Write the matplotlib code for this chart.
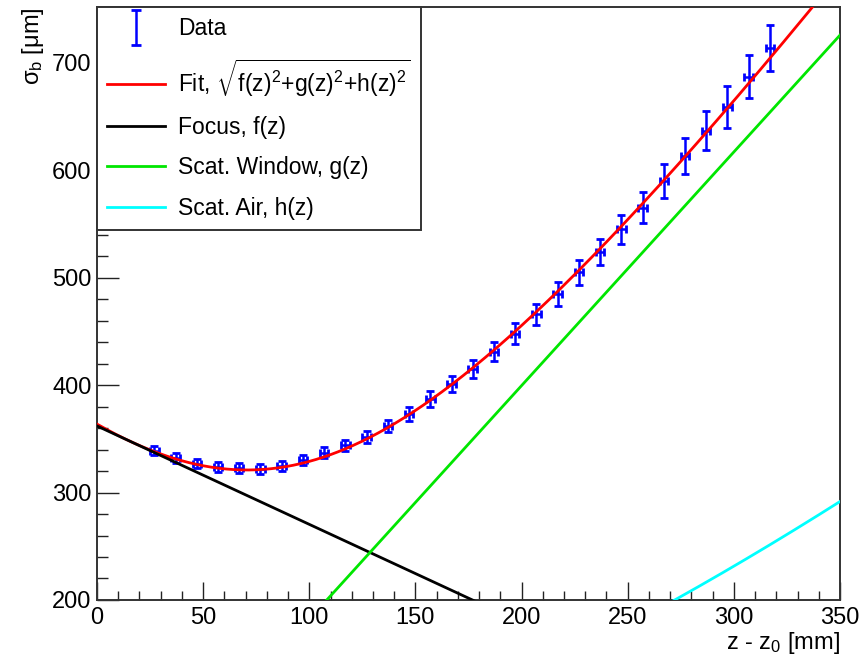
import numpy as np
import matplotlib
matplotlib.use('Agg')
import matplotlib.pyplot as plt
from matplotlib.ticker import MultipleLocator
from matplotlib.legend_handler import HandlerErrorbar

plt.rcParams['font.family'] = ['Liberation Sans', 'DejaVu Sans']
plt.rcParams['mathtext.fontset'] = 'custom'
plt.rcParams['mathtext.rm'] = 'Liberation Sans'
plt.rcParams['mathtext.it'] = 'Liberation Sans'
plt.rcParams['mathtext.bf'] = 'Liberation Sans:bold'

# measured beam width vs distance
z_data = [27, 37, 47, 57, 67, 77, 87, 97, 107, 117,
          127, 137, 147, 157, 167, 177, 187, 197, 207, 217,
          227, 237, 247, 257, 267, 277, 287, 297, 307, 317]
sigma_b = [339, 332, 327, 324, 323, 322, 325, 330, 337, 344,
           352, 362, 373, 387, 401, 415, 431, 448, 466, 485,
           505, 524, 545, 565, 590, 613, 637, 659, 687, 714]
sigma_err = [4.5, 4.5, 4.5, 4.5, 4.5, 4.5, 4.5, 4.8, 5.0, 5.2,
             5.5, 5.8, 6.5, 7.2, 7.6, 8.2, 8.8, 9.5, 10.0, 11.0,
             11.5, 12.3, 13.8, 14.4, 16.0, 16.8, 18.5, 19.6, 20.0, 21.5]
z_err = 2.0

# fit components (parameters)
focus_a, focus_b = 362.0, -0.916     # f(z) = |a + b z|
window_k, window_z = 2.175, 16.3     # g(z) = k (z - z_w)
air_k = 0.04454                      # h(z) = k z^1.5

z_fit = np.linspace(0, 350, 701)
f_z = np.abs(focus_a + focus_b * z_fit)
g_z = window_k * (z_fit - window_z)
h_z = air_k * z_fit ** 1.5
fit_z = np.sqrt(f_z ** 2 + g_z ** 2 + h_z ** 2)

fig = plt.figure(figsize=(8.6, 6.57), dpi=100)
ax = fig.add_axes([0.1128, 0.0868, 0.8639, 0.9025])

ax.errorbar(z_data, sigma_b, yerr=sigma_err, xerr=z_err, fmt='none',
            ecolor='#0000ff', elinewidth=1.8, capsize=3.2, capthick=2.0, zorder=2)
proxy = ax.errorbar([np.nan], [np.nan], yerr=[1], fmt='none',
                    ecolor='#0000ff', elinewidth=1.8, capsize=3.5, capthick=2.0)

l_fit, = ax.plot(z_fit, fit_z, color='#ff0000', lw=2.0, zorder=3)
l_f, = ax.plot(z_fit, f_z, color='black', lw=2.0, zorder=3)
l_g, = ax.plot(z_fit, g_z, color='#00e600', lw=2.0, zorder=3)
l_h, = ax.plot(z_fit, h_z, color='#00ffff', lw=2.0, zorder=3)

ax.set_xlim(0, 350)
ax.set_ylim(200, 752)

ax.xaxis.set_major_locator(MultipleLocator(50))
ax.xaxis.set_minor_locator(MultipleLocator(10))
ax.yaxis.set_major_locator(MultipleLocator(100))
ax.yaxis.set_minor_locator(MultipleLocator(20))
ax.tick_params(axis='both', which='both', direction='in', top=False, right=False,
               labelsize=17, width=1.0, color='#222222')
ax.tick_params(axis='x', which='major', length=13, pad=5)
ax.tick_params(axis='x', which='minor', length=6.5)
ax.tick_params(axis='y', which='major', length=16, pad=4)
ax.tick_params(axis='y', which='minor', length=8)
for s in ax.spines.values():
    s.set_linewidth(1.4)
    s.set_color('#333333')

ax.set_xlabel(r'z - z$_{0}$ [mm]', fontsize=17, loc='right', labelpad=1)
ax.set_ylabel(r'$\sigma_{b}$ [$\mu$m]', fontsize=17, loc='top', labelpad=4)

leg = ax.legend([proxy, l_fit, l_f, l_g, l_h],
                ['Data', r'Fit, $\sqrt{f(z)^{2}{+}g(z)^{2}{+}h(z)^{2}}$',
                 'Focus, f(z)', 'Scat. Window, g(z)', 'Scat. Air, h(z)'],
                handler_map={proxy: HandlerErrorbar(xerr_size=0.5, yerr_size=0.75)},
                loc='upper left', bbox_to_anchor=(0, 1), borderaxespad=0,
                fontsize=16.5, frameon=True, fancybox=False, framealpha=1,
                edgecolor='#333333', handlelength=2.5, handletextpad=0.6,
                labelspacing=0.75, borderpad=0.45)
leg.get_frame().set_linewidth(1.4)
leg.set_zorder(5)

fig.savefig('out.png', dpi=100)
